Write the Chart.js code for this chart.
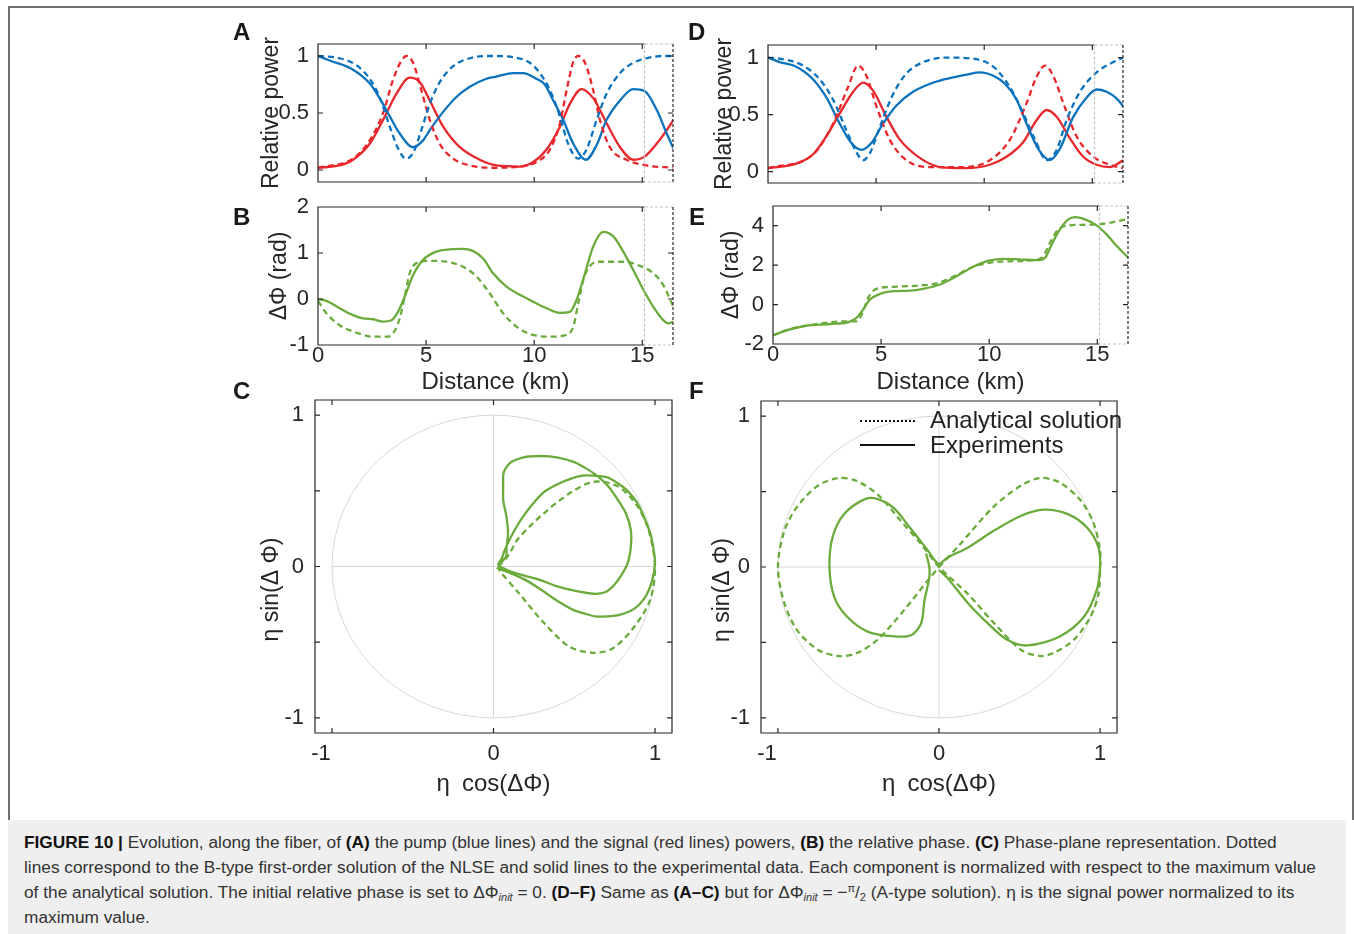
<!DOCTYPE html>
<html>
<head>
<meta charset="utf-8">
<script src="https://cdn.jsdelivr.net/npm/chart.js@4.4.1/dist/chart.umd.min.js"></script>
<style>
  body { margin: 0; width: 1354px; height: 934px; position: relative; overflow: hidden; background: #fff;
         font-family: "Liberation Sans", Arial, sans-serif; color: #222; }
  canvas { position: absolute; }
  .tag { position: absolute; font-weight: bold; font-size: 24px; line-height: 28px; color: #1a1a1a; }
  #frame { position: absolute; left: 8px; top: 6px; width: 1342px; height: 812px;
           border: 2px solid #707070; border-bottom: none; }
  #caption { position: absolute; left: 8px; top: 820px; width: 1338px; height: 114px; background: #efefef; }
  #caption div { position: absolute; left: 16px; white-space: nowrap; font-size: 17.3px; line-height: 25px; height: 25px; color: #333; }
  #caption b { color: #111; }
  #caption sub, #caption sup { font-size: 11px; line-height: 0; }
  #caption sub { vertical-align: -3px; }
  #caption sup { vertical-align: 6px; }
  .leg { position: absolute; font-size: 24px; line-height: 26px; color: #222; white-space: nowrap; }
  .leg span { position: absolute; left: 0; width: 55px; }
</style>
</head>
<body>
<div id="frame"></div>

<canvas id="chA" width="443" height="160" style="left:250px;top:30px"></canvas>
<canvas id="chB" width="443" height="203" style="left:250px;top:197px"></canvas>
<canvas id="chC" width="437" height="414" style="left:255px;top:388px"></canvas>
<canvas id="chD" width="443" height="160" style="left:700px;top:31px"></canvas>
<canvas id="chE" width="443" height="204" style="left:705px;top:196px"></canvas>
<canvas id="chF" width="436" height="413" style="left:701px;top:389px"></canvas>

<div class="tag" style="left:233px;top:18px">A</div>
<div class="tag" style="left:233px;top:203px">B</div>
<div class="tag" style="left:233px;top:377px">C</div>
<div class="tag" style="left:688px;top:18px">D</div>
<div class="tag" style="left:689px;top:203px">E</div>
<div class="tag" style="left:689px;top:377px">F</div>

<div class="leg" style="left:860px;top:407px">
  <span style="top:13px;border-top:2px dotted #111"></span><div style="margin-left:70px">Analytical solution</div>
</div>
<div class="leg" style="left:860px;top:432px">
  <span style="top:12px;border-top:2px solid #111"></span><div style="margin-left:70px">Experiments</div>
</div>

<div id="caption">
  <div style="top:10px"><b>FIGURE 10 |</b> Evolution, along the fiber, of <b>(A)</b> the pump (blue lines) and the signal (red lines) powers, <b>(B)</b> the relative phase. <b>(C)</b> Phase-plane representation. Dotted</div>
  <div style="top:35px">lines correspond to the B-type first-order solution of the NLSE and solid lines to the experimental data. Each component is normalized with respect to the maximum value</div>
  <div style="top:60px">of the analytical solution. The initial relative phase is set to ΔΦ<sub><i>init</i></sub> = 0. <b>(D–F)</b> Same as <b>(A–C)</b> but for ΔΦ<sub><i>init</i></sub> = −<sup>π</sup>/<sub>2</sub> (A-type solution). η is the signal power normalized to its</div>
  <div style="top:85px">maximum value.</div>
</div>

<script>
// ---- panel A : powers, ΔΦinit = 0 ----
const aPumpExpKm = [0, 0.54, 1.62, 2.39, 2.85, 3.32, 3.78, 4.4, 4.86, 5.17, 5.79, 6.4, 7.02, 7.79, 8.26, 9.03, 9.49, 10.1, 10.49, 10.88, 11.34, 11.81, 12.39, 12.89, 13.35, 13.97, 14.58, 15.12, 15.66, 16.13, 16.44];
const aPumpExp   = [1.0, 0.96, 0.88, 0.76, 0.63, 0.47, 0.32, 0.20, 0.26, 0.35, 0.51, 0.64, 0.73, 0.80, 0.82, 0.85, 0.85, 0.80, 0.75, 0.61, 0.44, 0.23, 0.09, 0.22, 0.44, 0.61, 0.71, 0.69, 0.53, 0.32, 0.19];
const aPumpThKm  = [0, 1.0, 1.77, 2.39, 2.85, 3.32, 3.7, 4.06, 4.4, 4.78, 5.17, 5.63, 6.25, 7.02, 8.1, 9.03, 9.8, 10.26, 10.73, 11.19, 11.57, 12.04, 12.42, 12.89, 13.35, 13.97, 14.58, 15.2, 15.97, 16.44];
const aPumpTh    = [1.0, 0.98, 0.92, 0.80, 0.64, 0.38, 0.19, 0.10, 0.15, 0.35, 0.58, 0.77, 0.91, 0.98, 1.0, 0.99, 0.94, 0.85, 0.70, 0.47, 0.23, 0.10, 0.18, 0.44, 0.67, 0.85, 0.94, 0.98, 1.0, 1.0];
const aSigExpKm  = [0, 1.0, 1.62, 2.39, 3.01, 3.63, 4.24, 4.71, 5.17, 5.79, 6.56, 7.48, 8.26, 9.34, 9.95, 10.57, 11.19, 11.65, 12.19, 12.73, 13.35, 13.97, 14.58, 15.12, 15.66, 16.13, 16.44];
const aSigExp    = [0.02, 0.04, 0.09, 0.23, 0.44, 0.67, 0.81, 0.77, 0.61, 0.38, 0.20, 0.09, 0.04, 0.03, 0.07, 0.18, 0.38, 0.58, 0.71, 0.63, 0.41, 0.20, 0.09, 0.12, 0.23, 0.35, 0.44];
const aSigThKm   = [0, 1.62, 2.39, 3.01, 3.47, 3.86, 4.09, 4.4, 4.78, 5.17, 5.63, 6.25, 7.02, 8.1, 9.34, 10.1, 10.73, 11.19, 11.5, 11.81, 12.04, 12.35, 12.73, 13.04, 13.5, 14.27, 15.2, 16.44];
const aSigTh     = [0.02, 0.10, 0.26, 0.50, 0.79, 0.96, 1.0, 0.94, 0.70, 0.44, 0.23, 0.10, 0.04, 0.02, 0.03, 0.07, 0.18, 0.41, 0.70, 0.95, 1.0, 0.94, 0.70, 0.44, 0.20, 0.09, 0.04, 0.02];

// ---- panel B : relative phase, ΔΦinit = 0 ----
const bExpKm = [0, 0.39, 1.0, 1.62, 2.08, 2.55, 3.01, 3.4, 3.7, 4.01, 4.4, 4.86, 5.48, 6.1, 6.71, 7.18, 7.64, 8.1, 8.72, 9.34, 9.95, 10.57, 11.19, 11.65, 11.96, 12.35, 12.73, 13.19, 13.66, 14.12, 14.58, 15.05, 15.51, 15.97, 16.2, 16.44];
const bExp   = [0, -0.04, -0.2, -0.35, -0.42, -0.44, -0.49, -0.46, -0.28, 0.05, 0.52, 0.85, 1.03, 1.08, 1.09, 1.04, 0.88, 0.56, 0.27, 0.09, -0.06, -0.2, -0.3, -0.28, -0.02, 0.56, 1.14, 1.46, 1.36, 1.03, 0.63, 0.2, -0.17, -0.46, -0.53, -0.49];
const bThKm  = [0, 0.39, 1.0, 1.77, 2.55, 3.16, 3.47, 3.78, 4.01, 4.24, 4.55, 5.17, 5.94, 6.71, 7.33, 7.95, 8.56, 9.18, 9.8, 10.73, 11.5, 11.81, 12.04, 12.27, 12.58, 13.04, 14.12, 14.89, 15.51, 15.97, 16.44];
const bTh    = [-0.04, -0.31, -0.57, -0.73, -0.82, -0.82, -0.75, -0.42, 0.05, 0.56, 0.78, 0.83, 0.81, 0.70, 0.49, 0.12, -0.31, -0.6, -0.76, -0.82, -0.78, -0.6, -0.09, 0.41, 0.72, 0.81, 0.81, 0.72, 0.56, 0.3, -0.17];

// ---- panel C : phase plane, ΔΦinit = 0 ----
const cExpX = [0.02, 0.12, 0.2, 0.29, 0.37, 0.43, 0.5, 0.56, 0.63, 0.70, 0.78, 0.87, 0.94, 0.98, 1.0, 0.99, 0.97, 0.93, 0.89, 0.83, 0.77, 0.70, 0.62, 0.55, 0.48, 0.39, 0.31, 0.24, 0.17, 0.11, 0.07, 0.05, 0.03, 0.1, 0.19, 0.29, 0.39, 0.5, 0.62, 0.69, 0.74, 0.79, 0.83, 0.85, 0.85, 0.82, 0.77, 0.71, 0.64, 0.57, 0.50, 0.40, 0.29, 0.18, 0.11, 0.07, 0.06, 0.06, 0.06, 0.08, 0.09, 0.08, 0.08, 0.05];
const cExpY = [-0.01, -0.05, -0.09, -0.15, -0.21, -0.25, -0.29, -0.31, -0.33, -0.33, -0.32, -0.28, -0.2, -0.1, 0.02, 0.12, 0.22, 0.33, 0.42, 0.5, 0.55, 0.59, 0.6, 0.6, 0.58, 0.54, 0.49, 0.41, 0.31, 0.2, 0.11, 0.05, 0.01, -0.03, -0.06, -0.09, -0.13, -0.16, -0.18, -0.17, -0.13, -0.06, 0.02, 0.13, 0.24, 0.35, 0.44, 0.53, 0.6, 0.65, 0.69, 0.72, 0.73, 0.72, 0.69, 0.64, 0.6, 0.52, 0.44, 0.33, 0.22, 0.12, 0.07, 0.03];
const cThX  = [0.03, 0.09, 0.15, 0.31, 0.48, 0.62, 0.77, 0.89, 0.96, 1.0, 0.97, 0.87, 0.74, 0.62, 0.47, 0.31, 0.16, 0.04, 0.03];
const cThY  = [0, 0.07, 0.18, 0.35, 0.49, 0.56, 0.53, 0.40, 0.24, 0, -0.22, -0.40, -0.54, -0.57, -0.53, -0.37, -0.18, -0.03, 0];

// ---- panel D : powers, ΔΦinit = -π/2 ----
const dPumpExpKm = [0, 0.54, 1.31, 2.08, 2.7, 3.32, 3.86, 4.32, 4.78, 5.32, 5.94, 6.71, 7.64, 8.41, 9.18, 9.8, 10.42, 10.96, 11.5, 11.96, 12.5, 13.04, 13.5, 14.12, 14.74, 15.2, 15.66, 16.13, 16.44];
const dPumpExp   = [1.0, 0.96, 0.92, 0.81, 0.65, 0.42, 0.25, 0.19, 0.25, 0.42, 0.58, 0.70, 0.78, 0.82, 0.85, 0.87, 0.84, 0.77, 0.63, 0.42, 0.2, 0.10, 0.2, 0.48, 0.65, 0.72, 0.70, 0.64, 0.57];
const dPumpThKm  = [0, 0.85, 1.62, 2.39, 3.01, 3.63, 4.09, 4.4, 4.71, 5.17, 5.79, 6.4, 7.18, 8.26, 9.49, 10.42, 11.19, 11.81, 12.35, 12.89, 13.35, 13.81, 14.43, 15.2, 15.97, 16.44];
const dPumpTh    = [1.0, 0.98, 0.93, 0.81, 0.63, 0.36, 0.17, 0.1, 0.16, 0.39, 0.68, 0.86, 0.96, 1.0, 0.99, 0.92, 0.74, 0.51, 0.28, 0.1, 0.19, 0.45, 0.70, 0.87, 0.96, 1.0];
const dSigExpKm  = [0, 1.31, 2.08, 2.7, 3.32, 3.94, 4.4, 4.86, 5.48, 6.1, 7.02, 7.95, 9.18, 10.26, 11.03, 11.81, 12.42, 12.89, 13.35, 13.97, 14.58, 15.2, 15.8, 16.44];
const dSigExp    = [0.03, 0.07, 0.15, 0.31, 0.51, 0.70, 0.78, 0.71, 0.48, 0.28, 0.12, 0.04, 0.03, 0.06, 0.13, 0.26, 0.45, 0.54, 0.48, 0.29, 0.13, 0.06, 0.04, 0.1];
const dSigThKm   = [0, 2.08, 3.01, 3.7, 4.17, 4.55, 5.02, 5.63, 6.4, 7.48, 9.03, 10.26, 11.19, 11.96, 12.42, 12.81, 13.19, 13.66, 14.27, 15.05, 15.82, 16.44];
const dSigTh     = [0.03, 0.15, 0.42, 0.74, 0.93, 0.84, 0.57, 0.28, 0.1, 0.04, 0.04, 0.1, 0.28, 0.6, 0.83, 0.93, 0.84, 0.6, 0.31, 0.13, 0.06, 0.03];

// ---- panel E : relative phase, ΔΦinit = -π/2 ----
const eExpKm = [0, 0.62, 1.39, 2.16, 2.93, 3.47, 3.86, 4.17, 4.48, 4.94, 5.56, 6.33, 6.94, 7.72, 8.49, 9.26, 10.03, 10.65, 11.42, 12.19, 12.58, 12.89, 13.27, 13.66, 13.97, 14.43, 14.97, 15.43, 15.9, 16.44];
const eExp   = [-1.56, -1.31, -1.1, -1.02, -0.97, -0.9, -0.68, -0.25, 0.25, 0.54, 0.68, 0.71, 0.8, 1.02, 1.44, 1.92, 2.24, 2.32, 2.29, 2.25, 2.37, 3.05, 3.81, 4.32, 4.44, 4.32, 4.02, 3.56, 2.97, 2.37];
const eThKm  = [0, 0.77, 1.54, 2.62, 3.4, 3.86, 4.14, 4.4, 4.78, 5.56, 6.79, 7.56, 8.33, 9.26, 10.19, 11.11, 12.04, 12.5, 12.81, 13.19, 13.73, 14.51, 15.28, 15.9, 16.44];
const eTh    = [-1.56, -1.24, -1.07, -0.9, -0.85, -0.85, -0.42, 0.34, 0.8, 0.9, 0.97, 1.07, 1.41, 1.92, 2.15, 2.2, 2.25, 2.46, 3.14, 3.81, 4.02, 4.05, 4.1, 4.22, 4.36];

// ---- panel F : phase plane, ΔΦinit = -π/2 ----
const fExpX = [0.0, 0.05, 0.18, 0.30, 0.42, 0.55, 0.75, 0.90, 0.98, 1.0, 0.99, 0.92, 0.80, 0.65, 0.51, 0.34, 0.18, 0.05, 0.0, -0.03, -0.07, -0.18, -0.28, -0.38, -0.46, -0.59, -0.66, -0.68, -0.65, -0.57, -0.44, -0.28, -0.17, -0.11, -0.09, -0.06, -0.06, -0.08];
const fExpY = [-0.02, -0.07, -0.24, -0.37, -0.48, -0.52, -0.46, -0.33, -0.15, 0, 0.13, 0.26, 0.35, 0.38, 0.34, 0.24, 0.13, 0.06, 0.02, 0.05, 0.11, 0.26, 0.39, 0.45, 0.45, 0.35, 0.2, 0, -0.2, -0.33, -0.43, -0.46, -0.45, -0.37, -0.22, -0.07, 0.0, 0.09];
const fThX  = [0.0, 0.13, 0.34, 0.51, 0.63, 0.75, 0.88, 0.96, 1.0, 1.0, 0.99, 0.94, 0.84, 0.71, 0.63, 0.51, 0.34, 0.18, 0.0, -0.11, -0.24, -0.38, -0.51, -0.62, -0.75, -0.88, -0.96, -1.0, -0.96, -0.88, -0.75, -0.62, -0.51, -0.38, -0.22, -0.07, 0.0];
const fThY  = [0.0, 0.15, 0.40, 0.54, 0.59, 0.56, 0.44, 0.29, 0.11, 0, -0.18, -0.33, -0.48, -0.57, -0.59, -0.55, -0.37, -0.18, 0.0, 0.15, 0.31, 0.48, 0.57, 0.59, 0.54, 0.40, 0.24, 0, -0.24, -0.42, -0.55, -0.59, -0.57, -0.48, -0.29, -0.09, 0.0];

// axis ticks
const kmTicks = [0, 5, 10, 15];
const powerTicks = [0, 0.5, 1];
const bPhaseTicks = [-1, 0, 1, 2];
const ePhaseTicks = [-2, 0, 2, 4];
const unitTicks = [-1, 0, 1];
const halfTicks = [-1, -0.5, 0, 0.5, 1];
const zoomFrom = 15.1;   // start of the dashed box on the distance axes

const BLUE = '#0b72bd', RED = '#e8272c', GREEN = '#6aab3c', INK = '#262626';
Chart.defaults.font.family = '"Liberation Sans", Arial, sans-serif';
Chart.defaults.color = INK;

const pts = (xs, ys) => xs.map((x, i) => ({ x: x, y: ys[i] }));

function line(xs, ys, color, dashed, along) {
  return {
    data: pts(xs, ys),
    showLine: true,
    borderColor: color,
    borderWidth: 2.3,
    borderDash: dashed ? [6, 4] : [],
    pointRadius: 0,
    cubicInterpolationMode: along ? 'monotone' : 'default',
    tension: along ? 0 : 0.3
  };
}

// box, inner ticks, zoom box and unit circle
const framePlugin = {
  id: 'frame',
  beforeDatasetsDraw(chart, args, opts) {
    if (!opts.circle) return;
    const { ctx, scales: { x, y } } = chart;
    const cx = x.getPixelForValue(0), cy = y.getPixelForValue(0);
    ctx.save();
    ctx.strokeStyle = '#d8d8d8';
    ctx.lineWidth = 1;
    ctx.beginPath();
    ctx.ellipse(cx, cy, x.getPixelForValue(1) - cx, cy - y.getPixelForValue(1), 0, 0, Math.PI * 2);
    ctx.moveTo(x.getPixelForValue(-1), cy); ctx.lineTo(x.getPixelForValue(1), cy);
    ctx.moveTo(cx, y.getPixelForValue(-1)); ctx.lineTo(cx, y.getPixelForValue(1));
    ctx.stroke();
    ctx.restore();
  },
  afterDatasetsDraw(chart, args, opts) {
    const { ctx, chartArea: a, scales: { x, y } } = chart;
    const edge = opts.zoomFrom != null ? x.getPixelForValue(opts.zoomFrom) : a.right;
    ctx.save();
    ctx.strokeStyle = INK;
    ctx.lineWidth = 1.2;
    ctx.beginPath();
    x.ticks.forEach(t => {
      const p = x.getPixelForValue(t.value);
      if (p > edge + 1 || p < a.left + 1) return;
      ctx.moveTo(p, a.bottom); ctx.lineTo(p, a.bottom - 5);
      ctx.moveTo(p, a.top); ctx.lineTo(p, a.top + 5);
    });
    y.ticks.forEach(t => {
      const p = y.getPixelForValue(t.value);
      if (p < a.top + 1 || p > a.bottom - 1) return;
      ctx.moveTo(a.left, p); ctx.lineTo(a.left + 5, p);
      ctx.moveTo(a.right, p); ctx.lineTo(a.right - 5, p);
    });
    ctx.stroke();
    ctx.beginPath();
    ctx.moveTo(edge, a.top); ctx.lineTo(a.left, a.top);
    ctx.lineTo(a.left, a.bottom); ctx.lineTo(edge, a.bottom);
    if (edge >= a.right) ctx.closePath();
    ctx.stroke();
    if (edge < a.right) {
      ctx.setLineDash([3, 2]);
      ctx.strokeStyle = '#c4c4c4';
      ctx.beginPath();
      ctx.moveTo(a.right, a.top); ctx.lineTo(edge, a.top);
      ctx.lineTo(edge, a.bottom); ctx.lineTo(a.right, a.bottom);
      ctx.stroke();
      ctx.strokeStyle = INK;
      ctx.beginPath();
      ctx.moveTo(a.right, a.top); ctx.lineTo(a.right, a.bottom);
      ctx.stroke();
    }
    ctx.restore();
  }
};

function axis(c) {
  return {
    type: 'linear',
    min: c.min,
    max: c.max,
    grid: { display: false, drawTicks: false },
    border: { display: false },
    ticks: {
      display: c.labels !== false,
      padding: c.pad,
      autoSkip: false,
      maxRotation: 0,
      font: { size: 22, lineHeight: 1 },
      color: INK,
      callback: c.fmt || (v => String(v))
    },
    title: c.title ? {
      display: true, text: c.title, color: INK,
      font: { size: c.titleSize || 24 },
      padding: c.titlePad
    } : { display: false },
    afterBuildTicks: s => { s.ticks = c.ticks.map(v => ({ value: v })); },
    afterFit: s => {
      if (c.width != null) s.width = c.width;
      if (c.height != null) s.height = c.height;
      s.paddingLeft = 0; s.paddingRight = 0; s.paddingTop = 0; s.paddingBottom = 0;
    }
  };
}

function panel(id, datasets, c) {
  return new Chart(document.getElementById(id), {
    type: 'scatter',
    data: { datasets: datasets },
    options: {
      responsive: false,
      animation: false,
      events: [],
      layout: { padding: { top: c.padTop, right: 20, bottom: 0, left: 0 } },
      plugins: {
        legend: { display: false },
        tooltip: { enabled: false },
        frame: { zoomFrom: c.zoomFrom, circle: c.circle }
      },
      scales: { x: axis(c.x), y: axis(c.y) }
    },
    plugins: [framePlugin]
  });
}

// MATLAB lets the minus sign hang to the left of a centred tick label
const hangMinus = v => v < 0 ? String(v) + '\u2002\u2002' : String(v);
const wholeOnly = v => Number.isInteger(v) ? String(v) : '';

panel('chA', [
  line(aPumpThKm, aPumpTh, BLUE, true, true),
  line(aSigThKm, aSigTh, RED, true, true),
  line(aPumpExpKm, aPumpExp, BLUE, false, true),
  line(aSigExpKm, aSigExp, RED, false, true)
], {
  padTop: 14, zoomFrom: zoomFrom,
  x: { min: 0, max: 16.42, ticks: kmTicks, labels: false, height: 8 },
  y: { min: -0.105, max: 1.105, ticks: powerTicks, pad: 9, width: 68,
       title: 'Relative power', titleSize: 23, titlePad: { top: 8, bottom: 0 } }
});

panel('chB', [
  line(bThKm, bTh, GREEN, true, true),
  line(bExpKm, bExp, GREEN, false, true)
], {
  padTop: 10, zoomFrom: zoomFrom,
  x: { min: 0, max: 16.42, ticks: kmTicks, pad: 0, height: 55,
       title: 'Distance (km)', titlePad: { top: 0, bottom: 3 } },
  y: { min: -1, max: 2, ticks: bPhaseTicks, pad: 9, width: 68,
       title: 'ΔΦ (rad)', titleSize: 23, titlePad: { top: 16, bottom: 0 } }
});

panel('chC', [
  line(cThX, cThY, GREEN, true, false),
  line(cExpX, cExpY, GREEN, false, false)
], {
  padTop: 12, circle: true,
  x: { min: -1.105, max: 1.105, ticks: unitTicks, pad: 10, height: 69, fmt: hangMinus,
       title: 'η\u2002cos(ΔΦ)', titlePad: { top: 0, bottom: 3 } },
  y: { min: -1.1, max: 1.1, ticks: halfTicks, pad: 11, width: 60, fmt: wholeOnly,
       title: 'η sin(Δ Φ)\u2003\u2003', titleSize: 23, titlePad: { top: 3, bottom: 0 } }
});

panel('chD', [
  line(dPumpThKm, dPumpTh, BLUE, true, true),
  line(dSigThKm, dSigTh, RED, true, true),
  line(dPumpExpKm, dPumpExp, BLUE, false, true),
  line(dSigExpKm, dSigExp, RED, false, true)
], {
  padTop: 14, zoomFrom: zoomFrom,
  x: { min: 0, max: 16.42, ticks: kmTicks, labels: false, height: 8 },
  y: { min: -0.1, max: 1.11, ticks: powerTicks, pad: 9, width: 68,
       title: 'Relative power', titleSize: 23, titlePad: { top: 11, bottom: 0 } }
});

panel('chE', [
  line(eThKm, eTh, GREEN, true, true),
  line(eExpKm, eExp, GREEN, false, true)
], {
  padTop: 10, zoomFrom: zoomFrom,
  x: { min: 0, max: 16.42, ticks: kmTicks, pad: 0, height: 56,
       title: 'Distance (km)', titlePad: { top: 0, bottom: 3 } },
  y: { min: -2, max: 5, ticks: ePhaseTicks, pad: 9, width: 68,
       title: 'ΔΦ (rad)', titleSize: 23, titlePad: { top: 13, bottom: 0 } }
});

panel('chF', [
  line(fThX, fThY, GREEN, true, false),
  line(fExpX, fExpY, GREEN, false, false)
], {
  padTop: 12, circle: true,
  x: { min: -1.105, max: 1.105, ticks: unitTicks, pad: 10, height: 69, fmt: hangMinus,
       title: 'η\u2002cos(ΔΦ)', titlePad: { top: 0, bottom: 3 } },
  y: { min: -1.1, max: 1.1, ticks: halfTicks, pad: 11, width: 60, fmt: wholeOnly,
       title: 'η sin(Δ Φ)\u2003\u2003', titleSize: 23, titlePad: { top: 8, bottom: 0 } }
});
</script>
</body>
</html>
